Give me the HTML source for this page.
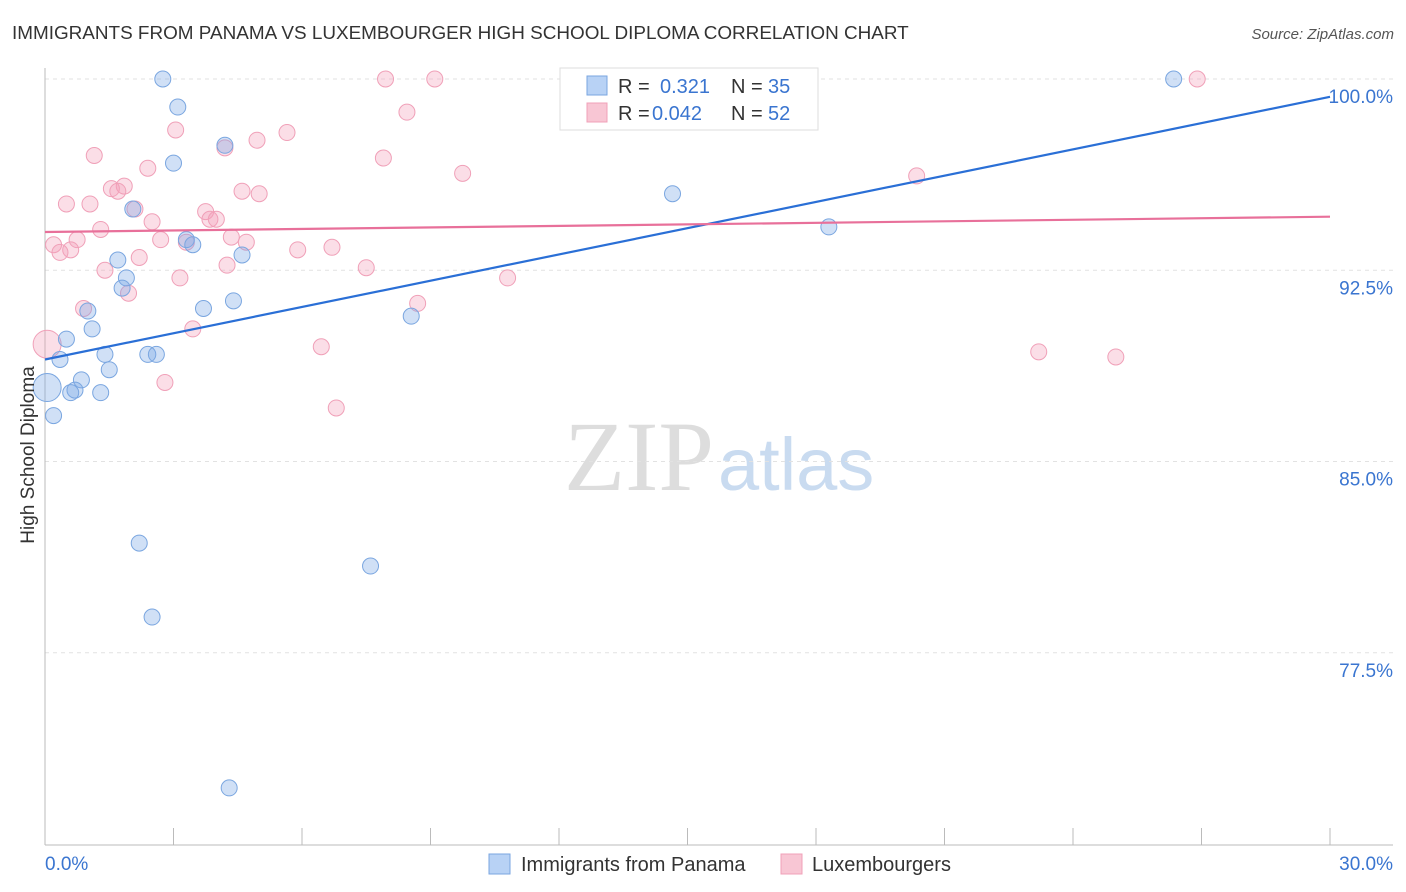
<!DOCTYPE html>
<html><head><meta charset="utf-8">
<style>
body{margin:0;background:#fff;font-family:"Liberation Sans",sans-serif;}
svg{display:block}
</style></head>
<body>
<svg id="chart" width="1406" height="892">
<text x="12" y="39" font-size="18.9" fill="#333">IMMIGRANTS FROM PANAMA VS LUXEMBOURGER HIGH SCHOOL DIPLOMA CORRELATION CHART</text>
<text x="1394" y="39" font-size="15" fill="#555" font-style="italic" text-anchor="end">Source: ZipAtlas.com</text>
<text x="714" y="490" font-size="100" fill="#ddd" font-family="Liberation Serif,serif" text-anchor="end">ZIP</text>
<text x="718" y="490" font-size="74" fill="#c9dbf0">atlas</text>
<g id="grid"></g>
<g id="axes"></g>
<g id="marks"></g>
<text transform="translate(34,455) rotate(-90)" font-size="19" fill="#333" text-anchor="middle">High School Diploma</text>
<g>
<rect x="560" y="68" width="258" height="62" fill="#fff" stroke="#ddd"/>
<rect x="587" y="76" width="20" height="19" fill="#b8d2f5" stroke="#7aa6e0"/>
<text x="618" y="93" font-size="20" fill="#333">R = </text><text x="660" y="93" font-size="20" fill="#3a75d0">0.321</text>
<text x="731" y="93" font-size="20" fill="#333">N = </text><text x="768" y="93" font-size="20" fill="#3a75d0">35</text>
<rect x="587" y="103" width="20" height="19" fill="#f8c6d4" stroke="#f0a0b8"/>
<text x="618" y="120" font-size="20" fill="#333">R = </text><text x="652" y="120" font-size="20" fill="#3a75d0">0.042</text>
<text x="731" y="120" font-size="20" fill="#333">N = </text><text x="768" y="120" font-size="20" fill="#3a75d0">52</text>
</g>
<g>
<rect x="489" y="854" width="21" height="20" fill="#b8d2f5" stroke="#7aa6e0"/>
<text x="521" y="871" font-size="20" fill="#333">Immigrants from Panama</text>
<rect x="781" y="854" width="21" height="20" fill="#f8c6d4" stroke="#f0a0b8"/>
<text x="812" y="871" font-size="20" fill="#333">Luxembourgers</text>
</g>
</svg>
<script>
const blueX=[2.75,3.1,3.0,4.2,2.05,3.3,3.45,4.6,1.7,1.9,1.8,4.4,3.7,8.55,1.0,1.1,0.5,0.35,1.4,2.4,2.6,1.5,0.85,0.7,0.6,1.3,0.05,0.2,2.2,7.6,2.5,4.3,14.65,18.3,26.35];
const blueY=[100,98.9,96.7,97.4,94.9,93.7,93.5,93.1,92.9,92.2,91.8,91.3,91.0,90.7,90.9,90.2,89.8,89.0,89.2,89.2,89.2,88.6,88.2,87.8,87.7,87.7,87.9,86.8,81.8,80.9,78.9,72.2,95.5,94.2,100];
const pinkX=[7.95,9.1,26.9,8.45,3.05,5.65,4.95,4.2,1.15,7.9,2.4,9.75,20.35,1.85,1.55,1.7,4.6,5.0,0.5,1.05,2.1,3.75,3.85,4.0,2.5,1.3,0.2,0.75,2.7,3.3,4.35,4.7,0.6,0.35,5.9,6.7,2.2,1.4,4.25,7.5,10.8,3.15,1.95,8.7,0.9,3.45,0.05,6.45,23.2,25.0,2.8,6.8];
const pinkY=[100,100,100,98.7,98.0,97.9,97.6,97.3,97.0,96.9,96.5,96.3,96.2,95.8,95.7,95.6,95.6,95.5,95.1,95.1,94.9,94.8,94.5,94.5,94.4,94.1,93.5,93.7,93.7,93.6,93.8,93.6,93.3,93.2,93.3,93.4,93.0,92.5,92.7,92.6,92.2,92.2,91.6,91.2,91.0,90.2,89.6,89.5,89.3,89.1,88.1,87.1];
const blueTrend=[89.0,99.3];
const pinkTrend=[94.0,94.6];
const yTicks=[100,92.5,85,77.5];
const yTickLabels=["100.0%","92.5%","85.0%","77.5%"];
const xTicks=[0,3,6,9,12,15,18,21,24,27,30];
const NS='http://www.w3.org/2000/svg';
const X=v=>45+v/30*1285;
const Y=v=>79+(100-v)*25.5;
function mk(tag,attrs,parent){const e=document.createElementNS(NS,tag);for(const k in attrs)e.setAttribute(k,attrs[k]);document.getElementById(parent).appendChild(e);return e;}
yTicks.forEach((t,i)=>{
 const l=mk('line',{x1:45,x2:1393,y1:Y(t),y2:Y(t),stroke:'#e2e2e2','stroke-dasharray':'4,4'},'grid');
 
 
 const tx=mk('text',{x:1393,y:Y(t)+24,'font-size':19,fill:'#3a75d0','text-anchor':'end'},'grid');
 tx.textContent=yTickLabels[i];
 
 
});
let a=mk('line',{x1:45,x2:45,y1:68,y2:845,stroke:'#bbb'},'axes');


a=mk('line',{x1:45,x2:1393,y1:845,y2:845,stroke:'#bbb'},'axes');


xTicks.forEach(t=>{
 const l=mk('line',{x1:X(t),x2:X(t),y1:828,y2:845,stroke:'#bbb'},'axes');
 
 
});
let t0=mk('text',{x:45,y:870,'font-size':19,fill:'#3a75d0'},'axes');t0.textContent='0.0%';


let t1=mk('text',{x:1393,y:870,'font-size':19,fill:'#3a75d0','text-anchor':'end'},'axes');t1.textContent='30.0%';


function pts(xs,ys,fill,stroke,name){
 xs.forEach((x,i)=>{
  const big=(x<0.1);
  const c=mk('circle',{cx:X(x),cy:Y(ys[i]),r:big?14:8,fill:fill,stroke:stroke,'stroke-width':1},'marks');
  
  
 });
}
pts(pinkX,pinkY,'rgba(244,160,185,0.35)','#f0a0b8','luxembourger-point');
pts(blueX,blueY,'rgba(120,165,230,0.35)','#7aa6e0','panama-point');
let bl=mk('line',{x1:X(0),y1:Y(blueTrend[0]),x2:X(30),y2:Y(blueTrend[1]),stroke:'#2a6fd6','stroke-width':2.2},'marks');


let pl=mk('line',{x1:X(0),y1:Y(pinkTrend[0]),x2:X(30),y2:Y(pinkTrend[1]),stroke:'#e8709a','stroke-width':2.2},'marks');


</script>
</body></html>
